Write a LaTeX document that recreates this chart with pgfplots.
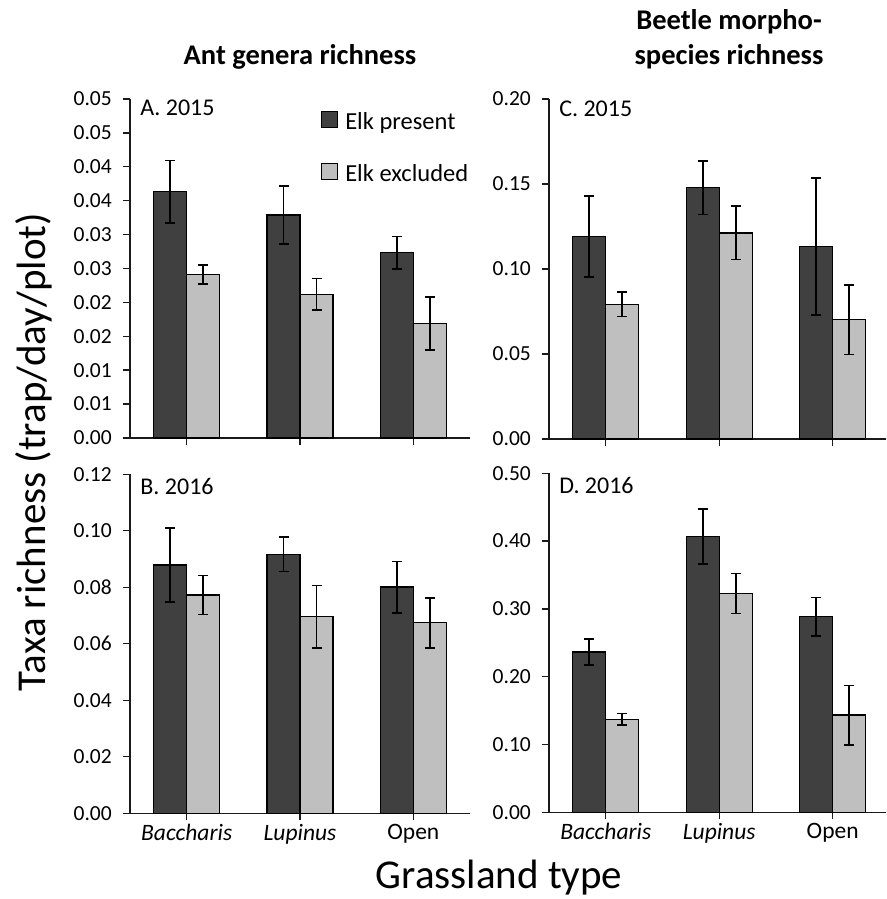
\documentclass[border=0pt]{standalone}
\usepackage{fontspec}
\setmainfont{Carlito}
\usepackage{pgfplots}
\pgfplotsset{compat=1.18}
\definecolor{darkbar}{HTML}{404040}
\definecolor{lightbar}{HTML}{BFBFBF}
\definecolor{axcol}{HTML}{1A1A1A}

\pgfplotsset{
  panel/.style={
    scale only axis, height=339pt,
    axis lines=left,
    axis line style={-, line width=1.4pt, axcol},
    ybar=0pt, bar width=33pt,
    xmin=-0.5, ymin=0,
    xtick={0,1,2},
    tick style={line width=1.4pt, draw=axcol},
    major x tick style={line width=1.4pt, draw=axcol},
    major y tick style={line width=1.4pt, draw=axcol},
    major tick length=7pt, tick align=outside,
    xtick align=outside,
    scaled y ticks=false,
    /pgf/number format/assume math mode=true,
    yticklabel style={font=\fontsize{21.5}{26}\selectfont, anchor=east, inner sep=0pt, xshift=-11pt, /pgf/number format/fixed, /pgf/number format/fixed zerofill, /pgf/number format/precision=2},
    xticklabel style={font=\fontsize{23.5}{28}\selectfont},
    clip=false,
  },
  barP/.style={fill=darkbar, draw=black, line width=1.2pt,
    error bars/.cd, y dir=both, y explicit,
    error bar style={line width=1.6pt, black},
    error mark options={rotate=90, mark size=5pt, line width=1.6pt, black}},
  barE/.style={fill=lightbar, draw=black, line width=1.2pt,
    error bars/.cd, y dir=both, y explicit,
    error bar style={line width=1.6pt, black},
    error mark options={rotate=90, mark size=5pt, line width=1.6pt, black}},
}

\begin{document}
\begin{tikzpicture}[x=1pt,y=1pt]
\useasboundingbox (0,0) rectangle (886,899);

% Panel A
\begin{axis}[panel, at={(130pt,461pt)}, anchor=south west, width=340pt,
  xmax=2.5, ymax=0.05,
  ytick={0,0.005,0.01,0.015,0.02,0.025,0.03,0.035,0.04,0.045,0.05},
  yticklabels={0.00,0.01,0.01,0.02,0.02,0.03,0.03,0.04,0.04,0.05,0.05},
  xticklabels={,,},
  legend style={at={(0.562,0.966)}, anchor=north west, draw=none, fill=none,
    font=\fontsize{24.5}{29}\selectfont, row sep=31pt, column sep=6pt,
    inner sep=0pt, nodes={inner sep=1pt}},
  legend cell align=left,
  legend image code/.code={\draw[#1, line width=1pt] (0pt,-5.5pt) rectangle (16pt,10.5pt);},
  ]
\addplot[barP] coordinates {(0,0.0363) +- (0,0.0046) (1,0.0329) +- (0,0.0043) (2,0.0273) +- (0,0.0024)};
\addplot[barE] coordinates {(0,0.0241) +- (0,0.0014) (1,0.0212) +- (0,0.0023) (2,0.0169) +- (0,0.0039)};
\addlegendentry{Elk present}
\addlegendentry{Elk excluded}
\node[anchor=north west, inner sep=0pt, font=\fontsize{24}{28}\selectfont] at (rel axis cs:0.03,0.998) {A. 2015};
\end{axis}

% Panel B
\begin{axis}[panel, at={(130pt,85.7pt)}, anchor=south west, width=340pt,
  xmax=2.5, ymax=0.12,
  ytick={0,0.02,0.04,0.06,0.08,0.10,0.12},
  xticklabels={\textit{Baccharis},\textit{Lupinus},Open},
  ]
\addplot[barP] coordinates {(0,0.0879) +- (0,0.0130) (1,0.0917) +- (0,0.0061) (2,0.0801) +- (0,0.0091)};
\addplot[barE] coordinates {(0,0.0773) +- (0,0.0069) (1,0.0696) +- (0,0.0111) (2,0.0674) +- (0,0.0088)};
\node[anchor=north west, inner sep=0pt, font=\fontsize{24}{28}\selectfont] at (rel axis cs:0.03,0.99) {B. 2016};
\end{axis}

% Panel C
\begin{axis}[panel, at={(549pt,460pt)}, anchor=south west, width=337pt,
  xmax=2.47, ymax=0.20, height=340pt,
  ytick={0,0.05,0.10,0.15,0.20},
  xticklabels={,,},
  ]
\addplot[barP] coordinates {(0,0.1190) +- (0,0.0238) (1,0.1478) +- (0,0.0157) (2,0.1134) +- (0,0.0403)};
\addplot[barE] coordinates {(0,0.0792) +- (0,0.0071) (1,0.1212) +- (0,0.0157) (2,0.0702) +- (0,0.0204)};
\node[anchor=north west, inner sep=0pt, font=\fontsize{24}{28}\selectfont] at (rel axis cs:0.03,0.995) {C. 2015};
\end{axis}

% Panel D
\begin{axis}[panel, at={(549pt,86.7pt)}, anchor=south west, width=337pt,
  xmax=2.47, ymax=0.50,
  ytick={0,0.1,0.2,0.3,0.4,0.5},
  xticklabels={\textit{Baccharis},\textit{Lupinus},Open},
  ]
\addplot[barP] coordinates {(0,0.2364) +- (0,0.0188) (1,0.4065) +- (0,0.0404) (2,0.2885) +- (0,0.0286)};
\addplot[barE] coordinates {(0,0.1372) +- (0,0.0088) (1,0.3230) +- (0,0.0295) (2,0.1435) +- (0,0.0438)};
\node[anchor=north west, inner sep=0pt, font=\fontsize{24}{28}\selectfont] at (rel axis cs:0.03,0.99) {D. 2016};
\end{axis}

% Titles and axis labels
\node[anchor=base, font=\bfseries\fontsize{28.5}{34}\selectfont] at (300,834) {Ant genera richness};
\node[anchor=base, font=\bfseries\fontsize{28.5}{34}\selectfont] at (729,869) {Beetle morpho-};
\node[anchor=base, font=\bfseries\fontsize{28.5}{34}\selectfont] at (729,834) {species richness};
\node[anchor=base, rotate=90, font=\fontsize{41}{48}\selectfont] at (46,447) {Taxa richness (trap/day/plot)};
\node[anchor=base, font=\fontsize{41}{48}\selectfont] at (499,10) {Grassland type};
\end{tikzpicture}
\end{document}
